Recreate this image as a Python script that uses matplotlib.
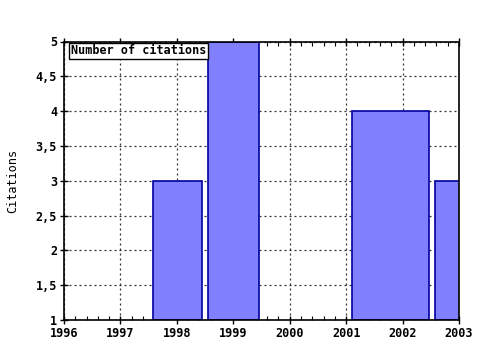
import matplotlib
matplotlib.use("Agg")
import matplotlib.pyplot as plt
from matplotlib.ticker import MultipleLocator, FuncFormatter

# bars (left/right edges in years, height in citations)
bar_left = [1997.57, 1998.56, 2001.11, 2002.57]
bar_right = [1998.45, 1999.46, 2002.47, 2003.45]
citations = [3, 5, 4, 3]

x_ticks = [1996, 1997, 1998, 1999, 2000, 2001, 2002, 2003]
y_ticks = [1, 1.5, 2, 2.5, 3, 3.5, 4, 4.5, 5]

plt.rcParams['font.family'] = ['DejaVu Sans Mono']
plt.rcParams['font.weight'] = 'bold'
plt.rcParams['font.size'] = 8.5

fig = plt.figure(figsize=(4.8, 3.5), dpi=100)
ax = fig.add_axes([64 / 480, 30 / 350, 395 / 480, 278.5 / 350])

widths = [r - l for l, r in zip(bar_left, bar_right)]
ax.bar(bar_left, [c - 1 for c in citations], width=widths, bottom=1, align='edge',
       color='#8080ff', edgecolor='#0000a0', linewidth=1.2, zorder=2,
       label='Number of citations')

ax.set_xlim(1996, 2003)
ax.set_ylim(1, 5)
ax.set_xticks(x_ticks)
ax.set_yticks(y_ticks)
ax.xaxis.set_minor_locator(MultipleLocator(0.2))
ax.yaxis.set_major_formatter(FuncFormatter(lambda v, p: ('%g' % v).replace('.', ',')))

ax.grid(True, which='major', color='#333333', linestyle=(0, (1.6, 2.4)), linewidth=0.9, zorder=1)
ax.set_axisbelow(True)

ax.tick_params(axis='x', which='major', direction='inout', length=6, width=1,
               top=True, pad=2)
ax.tick_params(axis='x', which='minor', direction='in', length=3, width=0.8, top=True)
ax.tick_params(axis='y', which='major', direction='inout', length=6, width=1, pad=2)

for side in ['left', 'bottom', 'top', 'right']:
    ax.spines[side].set_linewidth(1.2)

ax.set_ylabel('Citations', labelpad=12)

leg = ax.legend(loc='upper left', handlelength=0, handletextpad=0, borderpad=0.15,
                borderaxespad=0.1, fancybox=False, framealpha=1, edgecolor='black',
                bbox_to_anchor=(0.01, 1.0))
leg.get_frame().set_linewidth(1)
for h in leg.legend_handles:
    h.set_visible(False)

fig.savefig('out.png', dpi=100)
